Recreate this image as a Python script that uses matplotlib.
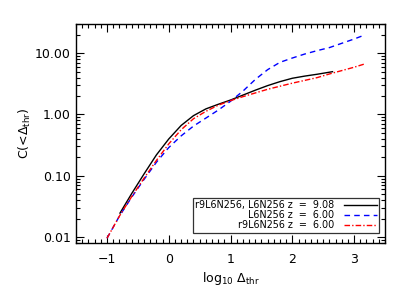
import numpy as np
import matplotlib
matplotlib.use("Agg")
import matplotlib.pyplot as plt
from matplotlib.ticker import FixedLocator, MultipleLocator, LogLocator, NullFormatter

plt.rcParams['font.family'] = ['DejaVu Sans']
plt.rcParams['mathtext.fontset'] = 'dejavusans'

# r9L6N256, L6N256 z = 9.08 (log10 of C)
x_z9 = [-0.79, -0.6, -0.4, -0.2, 0.0, 0.2, 0.4, 0.6, 0.8, 1.0, 1.2, 1.4,
        1.6, 1.8, 2.0, 2.2, 2.4, 2.65]
logc_z9 = [-1.61, -1.29, -0.97, -0.66, -0.40, -0.18, -0.02, 0.09, 0.165, 0.235,
           0.315, 0.395, 0.47, 0.535, 0.59, 0.625, 0.655, 0.697]

# L6N256 z = 6.00
x_l6 = [-1.0, -0.8, -0.6, -0.4, -0.2, 0.0, 0.2, 0.4, 0.6, 0.8, 1.0, 1.2,
        1.4, 1.6, 1.8, 2.0, 2.2, 2.4, 2.6, 2.8, 3.0, 3.13]
logc_l6 = [-2.02, -1.66, -1.35, -1.06, -0.78, -0.54, -0.35, -0.19, -0.06, 0.07,
           0.215, 0.38, 0.57, 0.73, 0.85, 0.92, 0.985, 1.04, 1.09, 1.16, 1.23, 1.28]

# r9L6N256 z = 6.00
x_r9 = [-1.0, -0.8, -0.6, -0.4, -0.2, 0.0, 0.2, 0.4, 0.6, 0.8, 1.0, 1.2,
        1.4, 1.6, 1.8, 2.0, 2.2, 2.4, 2.6, 2.8, 3.0, 3.16]
logc_r9 = [-2.02, -1.66, -1.34, -1.04, -0.75, -0.48, -0.25, -0.07, 0.05, 0.15,
           0.225, 0.29, 0.35, 0.41, 0.46, 0.51, 0.555, 0.60, 0.66, 0.715, 0.77, 0.82]

labels = ["r9L6N256, L6N256 z  =  9.08", "L6N256 z  =  6.00", "r9L6N256 z  =  6.00"]
y_ticks = [0.01, 0.1, 1.0, 10.0]
y_ticklabels = ["0.01", "0.10", "1.00", "10.00"]

fig = plt.figure(figsize=(4.07, 2.91), dpi=100)
ax = fig.add_axes([0.187, 0.165, 0.759, 0.753])

ax.plot(x_z9, 10 ** np.array(logc_z9), color="black", lw=1.0, label=labels[0])
ax.plot(x_l6, 10 ** np.array(logc_l6), color="blue", lw=1.0, ls=(0, (4, 3)), label=labels[1])
ax.plot(x_r9, 10 ** np.array(logc_r9), color="red", lw=1.0, ls=(0, (4, 1.5, 1, 1.5)), label=labels[2])

ax.set_yscale("log")
ax.set_xlim(-1.5, 3.5)
ax.set_ylim(0.008, 30)
ax.xaxis.set_major_locator(MultipleLocator(1))
ax.xaxis.set_minor_locator(MultipleLocator(0.1))
ax.yaxis.set_major_locator(FixedLocator(y_ticks))
ax.set_yticklabels(y_ticklabels)
ax.yaxis.set_minor_locator(LogLocator(base=10, subs=np.arange(2, 10)))
ax.yaxis.set_minor_formatter(NullFormatter())
ax.tick_params(which="both", direction="in", top=True, right=True, labelsize=9, width=0.8)
ax.tick_params(which="major", length=6)
ax.tick_params(which="minor", length=3)
ax.tick_params(axis="x", pad=7)
ax.tick_params(axis="y", pad=4)
for s in ax.spines.values():
    s.set_linewidth(1.0)

ax.set_xlabel(r"log$_{\mathregular{10}}$ $\Delta_{\mathregular{thr}}$", fontsize=9, labelpad=3)
ax.set_ylabel(r"C(<$\Delta_{\mathregular{thr}}$)", fontsize=9, labelpad=1.5)

leg = ax.legend(loc="lower right", markerfirst=False, fontsize=6.9, frameon=True,
                fancybox=False, edgecolor="black", handlelength=3.4,
                labelspacing=0.0, borderpad=0.25, handletextpad=1.0,
                borderaxespad=0, bbox_to_anchor=(0.981, 0.047))
leg.get_frame().set_linewidth(0.9)

fig.savefig("out.png", dpi=100)
